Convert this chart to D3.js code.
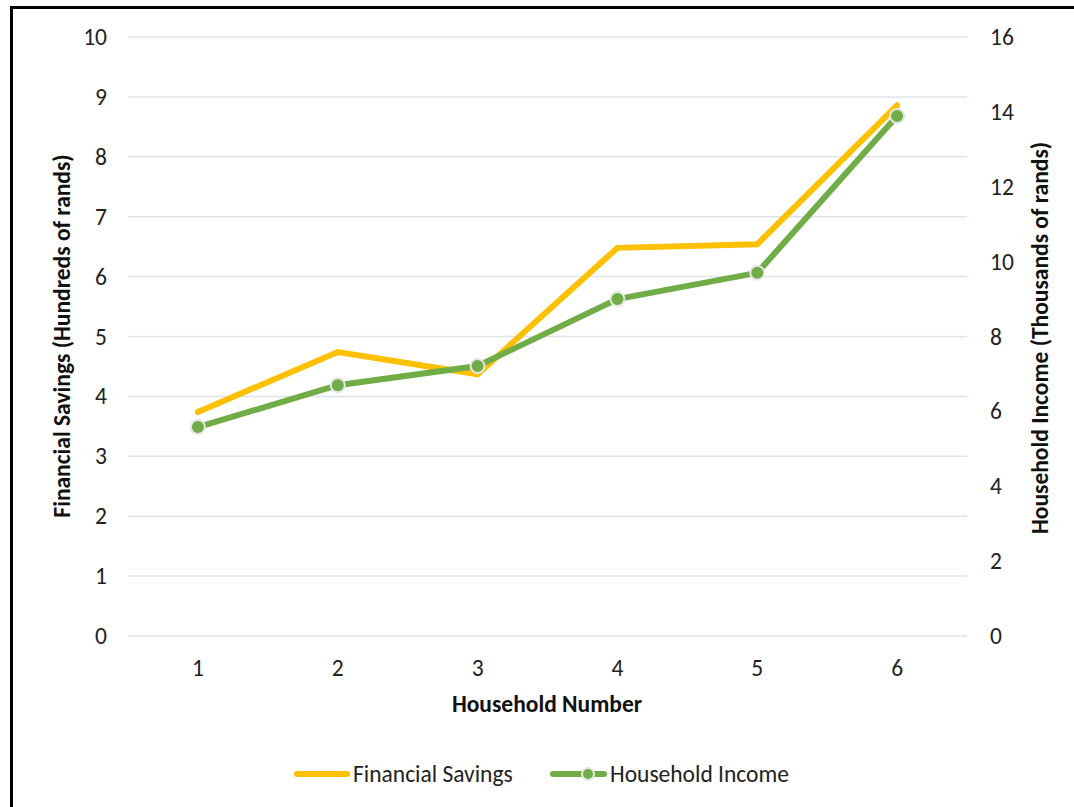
<!DOCTYPE html>
<html><head><meta charset="utf-8">
<script src="https://cdn.jsdelivr.net/npm/d3@7"></script>
<style>body{margin:0;background:#fff}svg{display:block}</style>
</head><body>
<svg id="c" width="1074" height="807"></svg>
<script>
const categories = ["1","2","3","4","5","6"];
const financialSavings = [3.74, 4.74, 4.37, 6.48, 6.54, 8.86];
const householdIncome = [5.58, 6.70, 7.21, 9.00, 9.70, 13.89];
const leftTicks = [0,1,2,3,4,5,6,7,8,9,10];
const rightTicks = [0,2,4,6,8,10,12,14,16];

const font = "Calibri, Carlito, Lato, 'Open Sans', sans-serif";
const fs = 23.5;
const svg = d3.select("#c");
svg.append("rect").attr("x",0).attr("y",0).attr("width",1074).attr("height",807).attr("fill","#fff");
svg.append("path").attr("d","M11.5,807 V7.5 H1074").attr("fill","none").attr("stroke","#000").attr("stroke-width",3);

const L=128, R=967, T=37, B=636;
const x = d3.scaleBand().domain(categories).range([L,R]);
const yL = d3.scaleLinear().domain([0,10]).range([B,T]);
const yR = d3.scaleLinear().domain([0,16]).range([B,T]);

svg.append("g").selectAll("line").data(leftTicks).join("line")
  .attr("x1",L).attr("x2",R).attr("y1",d=>yL(d)).attr("y2",d=>yL(d))
  .attr("stroke","#dfe3ea").attr("stroke-width",1.5);

const gl = svg.append("g").attr("transform",`translate(${L},0)`)
  .call(d3.axisLeft(yL).tickValues(leftTicks).tickSize(0).tickPadding(21));
gl.select(".domain").remove();
gl.selectAll("text").attr("font-family",font).attr("font-size",fs).attr("fill","#222");

const gr = svg.append("g").attr("transform",`translate(${R},0)`)
  .call(d3.axisRight(yR).tickValues(rightTicks).tickSize(0).tickPadding(23));
gr.select(".domain").remove();
gr.selectAll("text").attr("font-family",font).attr("font-size",fs).attr("fill","#222");

const gx = svg.append("g").attr("transform",`translate(0,${B})`)
  .call(d3.axisBottom(x).tickSize(0).tickPadding(23));
gx.select(".domain").remove();
gx.selectAll("text").attr("font-family",font).attr("font-size",fs).attr("fill","#222");

svg.append("text").attr("x",547).attr("y",712).attr("text-anchor","middle")
  .attr("font-family",font).attr("font-size",fs).attr("font-weight","bold").attr("fill","#111")
  .text("Household Number");
svg.append("text").attr("transform","translate(70,336) rotate(-90)").attr("text-anchor","middle")
  .attr("font-family",font).attr("font-size",fs).attr("font-weight","bold").attr("fill","#111")
  .text("Financial Savings (Hundreds of rands)");
svg.append("text").attr("transform","translate(1048,338) rotate(-90)").attr("text-anchor","middle")
  .attr("font-family",font).attr("font-size",fs).attr("font-weight","bold").attr("fill","#111")
  .text("Household Income (Thousands of rands)");

const cx = d => x(d)+x.bandwidth()/2;
const yellow = "#ffc000", green = "#70ad47";

svg.append("path").datum(financialSavings)
  .attr("d", d3.line().x((d,i)=>cx(categories[i])).y(d=>yL(d)))
  .attr("fill","none").attr("stroke",yellow).attr("stroke-width",6).attr("stroke-linecap","round").attr("stroke-linejoin","miter");

svg.append("path").datum(householdIncome)
  .attr("d", d3.line().x((d,i)=>cx(categories[i])).y(d=>yR(d)))
  .attr("fill","none").attr("stroke",green).attr("stroke-width",6).attr("stroke-linecap","round").attr("stroke-linejoin","miter");

svg.append("g").selectAll("circle").data(householdIncome).join("circle")
  .attr("cx",(d,i)=>cx(categories[i])).attr("cy",d=>yR(d)).attr("r",7)
  .attr("fill",green).attr("stroke","#e6e6e6").attr("stroke-width",2);

const lg = svg.append("g");
lg.append("line").attr("x1",297).attr("x2",347).attr("y1",774).attr("y2",774)
  .attr("stroke",yellow).attr("stroke-width",6).attr("stroke-linecap","round");
lg.append("text").attr("x",353).attr("y",782).attr("font-family",font).attr("font-size",fs).attr("fill","#222").text("Financial Savings");
lg.append("line").attr("x1",553).attr("x2",604).attr("y1",774).attr("y2",774)
  .attr("stroke",green).attr("stroke-width",6).attr("stroke-linecap","round");
lg.append("circle").attr("cx",588).attr("cy",774).attr("r",6).attr("fill",green).attr("stroke","#e6e6e6").attr("stroke-width",2);
lg.append("text").attr("x",610).attr("y",782).attr("font-family",font).attr("font-size",fs).attr("fill","#222").text("Household Income");
</script>
</body></html>
